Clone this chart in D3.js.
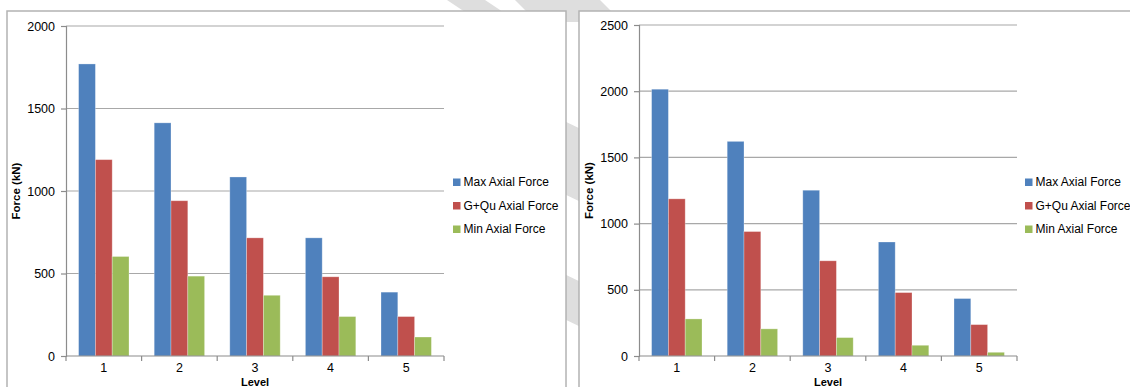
<!DOCTYPE html>
<html>
<head>
<meta charset="utf-8">
<script src="https://cdn.jsdelivr.net/npm/d3@7"></script>
<style>
  html, body { margin: 0; padding: 0; background: #ffffff; }
  svg { display: block; }
  text { font-family: "Liberation Sans", Arial, sans-serif; fill: #000; }
</style>
</head>
<body>
<svg id="chart" width="1130" height="387"></svg>
<script>
// ---------------- data ----------------
const levels = ["1", "2", "3", "4", "5"];
const seriesNames = ["Max Axial Force", "G+Qu Axial Force", "Min Axial Force"];
const seriesColors = ["#4F81BD", "#C0504D", "#9BBB59"];

const leftMax = [1770, 1413, 1085, 716, 387];
const leftGQu = [1190, 941, 716, 480, 239];
const leftMin = [603, 484, 368, 239, 115];
const leftTicks = [0, 500, 1000, 1500, 2000];

const rightMax = [2015, 1621, 1252, 861, 434];
const rightGQu = [1187, 940, 719, 479, 237];
const rightMin = [280, 205, 139, 81, 28];
const rightTicks = [0, 500, 1000, 1500, 2000, 2500];

const yTitle = "Force (kN)";
const xTitle = "Level";

// ---------------- drawing ----------------
const svg = d3.select("#chart");

// background watermark dashes (only visible in the gaps between the chart frames)
const wm = svg.append("g").attr("fill", "#dedede");
const wmShapes = [
  [[447, 0], [485, 0], [503, 12], [465, 12]],
  [[515, 0], [600, 0], [612, 12], [527, 12]],
  [[560, 0], [600, 0], [600, 22], [560, 22]],
  [[560, 119], [585, 131], [585, 204], [560, 192]],
  [[560, 272], [585, 284], [585, 329], [560, 317]]
];
wm.selectAll("polygon").data(wmShapes).join("polygon")
  .attr("points", d => d.map(p => p.join(",")).join(" "));

function drawChart(cfg) {
  const g = svg.append("g");
  // chart frame
  g.append("rect")
    .attr("x", cfg.frame[0]).attr("y", cfg.frame[1])
    .attr("width", cfg.frame[2]).attr("height", cfg.frame[3])
    .attr("fill", "#fff").attr("stroke", "#b3b3b3").attr("stroke-width", 1.5);

  const x0 = d3.scaleBand().domain(levels).range([cfg.left, cfg.right]).padding(0);
  const bw = x0.bandwidth();
  const gap = bw * 0.75 / 4.5;
  const x1 = d3.scaleBand().domain(seriesNames).range([gap, bw - gap]).padding(0);
  const y = d3.scaleLinear().domain([0, d3.max(cfg.ticks)]).range([cfg.bottom, cfg.top]);

  // gridlines
  g.append("g").selectAll("line").data(cfg.ticks.filter(t => t > 0)).join("line")
    .attr("x1", cfg.left).attr("x2", cfg.right)
    .attr("y1", d => y(d)).attr("y2", d => y(d))
    .attr("stroke", "#a8a8a8").attr("stroke-width", 1.2);

  // bars
  const values = [cfg.max, cfg.gqu, cfg.min];
  const barData = [];
  levels.forEach((lv, i) => {
    seriesNames.forEach((s, j) => barData.push({ lv, s, j, v: values[j][i] }));
  });
  g.append("g").selectAll("rect").data(barData).join("rect")
    .attr("x", d => x0(d.lv) + x1(d.s))
    .attr("y", d => y(d.v))
    .attr("width", x1.bandwidth())
    .attr("height", d => y(0) - y(d.v))
    .attr("fill", d => seriesColors[d.j])
    .attr("stroke", "#ffffff").attr("stroke-opacity", 0.35).attr("stroke-width", 0.8);

  // y axis
  const yAxis = d3.axisLeft(y).tickValues(cfg.ticks).tickSize(5).tickPadding(6)
    .tickFormat(d3.format("d"));
  const ya = g.append("g").attr("transform", `translate(${cfg.left},0)`).call(yAxis);
  ya.select(".domain").attr("stroke", "#8c8c8c").attr("stroke-width", 1.2);
  ya.selectAll(".tick line").attr("stroke", "#8c8c8c").attr("stroke-width", 1.2);
  ya.selectAll(".tick text").attr("font-size", 12.5)
    .attr("font-family", "Liberation Sans, Arial, sans-serif").attr("fill", "#000");

  // x axis: line plus boundary ticks
  const xa = g.append("g");
  xa.append("line").attr("x1", cfg.left).attr("x2", cfg.right)
    .attr("y1", y(0)).attr("y2", y(0)).attr("stroke", "#8c8c8c").attr("stroke-width", 1.2);
  const bounds = levels.map(l => x0(l)).concat([cfg.right]);
  xa.selectAll("line.b").data(bounds).join("line").attr("class", "b")
    .attr("x1", d => d).attr("x2", d => d)
    .attr("y1", y(0)).attr("y2", y(0) + 5)
    .attr("stroke", "#8c8c8c").attr("stroke-width", 1.2);
  xa.selectAll("text").data(levels).join("text")
    .attr("x", d => x0(d) + bw / 2).attr("y", y(0) + 16)
    .attr("text-anchor", "middle").attr("font-size", 12.5).text(d => d);

  // axis titles
  g.append("text")
    .attr("transform", `translate(${cfg.yTitleX},${(cfg.top + cfg.bottom) / 2}) rotate(-90)`)
    .attr("text-anchor", "middle").attr("font-size", 11.5).attr("font-weight", "bold")
    .text(yTitle);
  g.append("text")
    .attr("x", (cfg.left + cfg.right) / 2).attr("y", y(0) + 29.5)
    .attr("text-anchor", "middle").attr("font-size", 11).attr("font-weight", "bold")
    .text(xTitle);

  // legend
  const lg = g.append("g").attr("transform", `translate(${cfg.legendX},${cfg.legendY})`);
  const items = lg.selectAll("g").data(seriesNames).join("g")
    .attr("transform", (d, i) => `translate(0,${i * 23.5})`);
  items.append("rect").attr("x", 0).attr("y", -3.5).attr("width", 7.5).attr("height", 7.5)
    .attr("fill", (d, i) => seriesColors[i]);
  items.append("text").attr("x", 10.5).attr("y", 0).attr("dy", "0.35em")
    .attr("font-size", 12).text(d => d);
}

drawChart({
  frame: [7, 11, 559, 400],
  left: 66, right: 444, top: 26, bottom: 356,
  ticks: leftTicks, max: leftMax, gqu: leftGQu, min: leftMin,
  yTitleX: 20, legendX: 453, legendY: 182
});

drawChart({
  frame: [579, 11, 600, 400],
  left: 639, right: 1017, top: 25, bottom: 356,
  ticks: rightTicks, max: rightMax, gqu: rightGQu, min: rightMin,
  yTitleX: 593, legendX: 1025, legendY: 182
});
</script>
</body>
</html>
